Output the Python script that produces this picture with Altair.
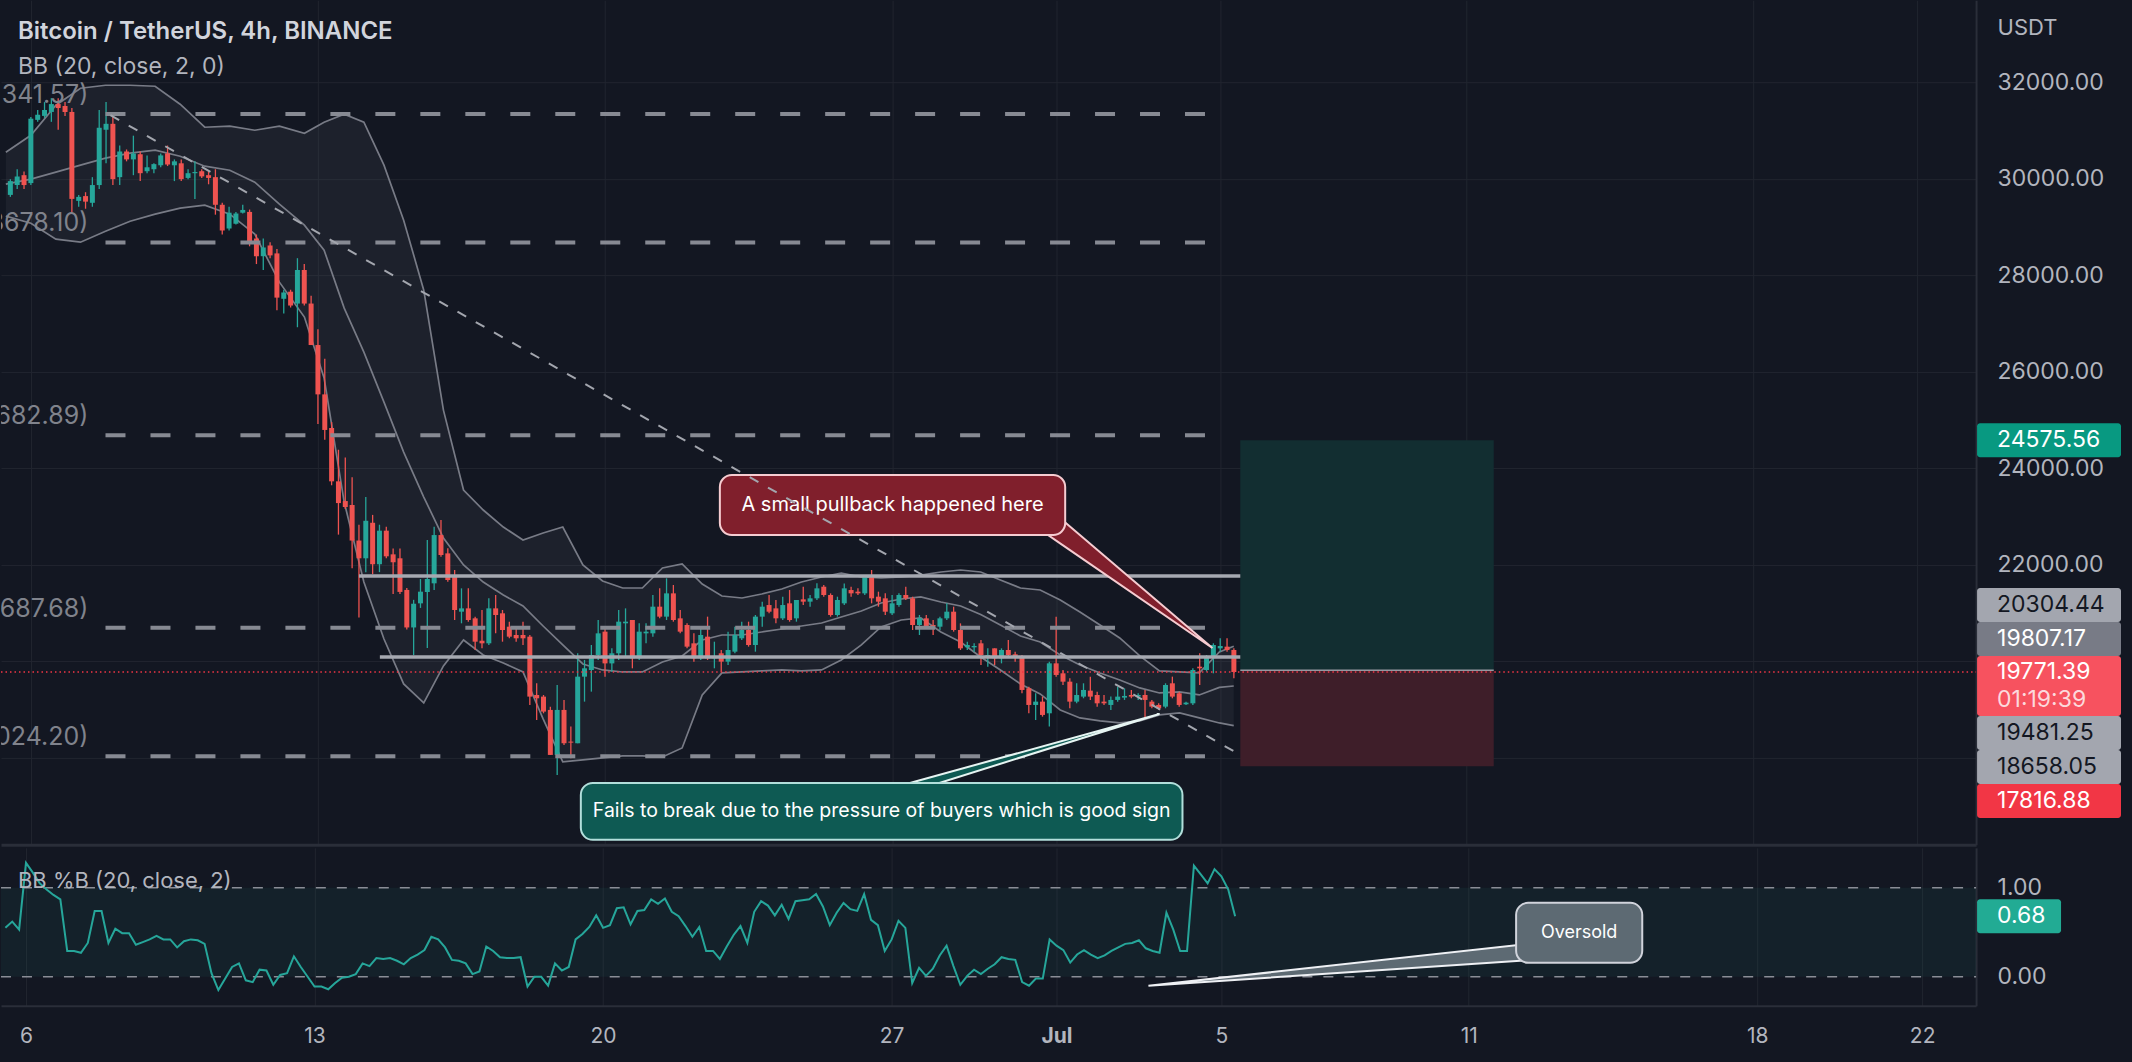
import altair as alt
import pandas as pd

# ------------------------------------------------------------------ data
opens = [
    29664, 29868, 30073, 29909, 31220, 31302, 31384, 31547, 31506, 31384,
    29540, 29639, 29500, 29868, 31015, 31138, 30032, 30564, 30400, 30507,
    30155, 30196, 30278, 30524, 30278, 30319, 30016, 30114, 30155, 30073,
    30032, 29459, 28967, 29066, 29295, 29311, 28762, 28393, 28615, 28451,
    27510, 27657, 27411, 28107, 27411, 26551, 25528, 24831, 23725, 23316,
    23234, 22497, 22129, 22866, 22006, 22702, 22211, 22129, 21473, 20695,
    21195, 21430, 21610, 22611, 22231, 21782, 21022, 21091, 20884, 20420,
    20366, 21091, 20988, 20711, 20539, 20539, 20504, 19295, 19261, 18985,
    18052, 18985, 18328, 18294, 19675, 19813, 20124, 20608, 19950, 20159,
    20781, 20850, 20055, 20573, 20573, 21126, 20919, 21402, 20884, 20746,
    20366, 20055, 20504, 20055, 20159, 19986, 20193, 20470, 20642, 20331,
    20919, 21160, 21091, 20884, 21195, 20884, 21278, 21230, 21299, 21540,
    21368, 20953, 21195, 21471, 21437, 21402, 21748, 21333, 21299, 20988,
    21160, 21368, 21299, 20746, 20884, 20746, 20711, 20884, 21022, 20642,
    20283, 20283, 20366, 20090, 20262, 20055, 20228, 20138, 20090, 19433,
    19088, 19157, 18915, 19951, 19744, 19571, 19157, 19261, 19385, 19295,
    19157, 19088, 19192, 19240, 19295, 19261, 19295, 19157, 19088, 19053,
    19537, 19330, 19102, 19122, 19882, 19813, 20090, 20262, 20297, 20228,
]
highs = [
    29990, 30196, 30150, 31277, 31424, 31588, 31670, 31670, 31588, 31465,
    29663, 29720, 30032, 31425, 31588, 31302, 30687, 30606, 30892, 30564,
    30482, 30319, 30524, 30687, 30400, 30400, 30196, 30360, 30196, 30155,
    30196, 29500, 29418, 29311, 29459, 29360, 28844, 28762, 28680, 28541,
    27698, 27698, 28352, 28230, 27575, 26879, 26265, 24954, 24380, 24217,
    23808, 22825, 23398, 23029, 22825, 22784, 22333, 22333, 21514, 21268,
    21700, 22510, 22784, 22922, 22335, 21886, 21506, 21506, 20919, 21057,
    21299, 21368, 21057, 20815, 20711, 20815, 20539, 19537, 19295, 19053,
    19502, 19192, 18639, 20159, 20021, 20331, 20850, 20711, 20262, 21057,
    21091, 20850, 20781, 20781, 21368, 21506, 21713, 21575, 21057, 20781,
    20573, 20677, 20919, 20400, 20228, 20608, 20711, 20815, 20815, 20953,
    21230, 21368, 21264, 21333, 21471, 21264, 21540, 21368, 21610, 21575,
    21402, 21333, 21609, 21540, 21506, 21782, 21886, 21437, 21402, 21368,
    21402, 21540, 21333, 20953, 20953, 20850, 20919, 21195, 21126, 20780,
    20400, 20366, 20435, 20262, 20262, 20262, 20435, 20193, 20124, 19468,
    19330, 19261, 19986, 20919, 19813, 19640, 19537, 19537, 19675, 19364,
    19295, 19261, 19468, 19433, 19399, 19330, 19399, 19192, 19122, 19537,
    19675, 19364, 19157, 19848, 20159, 20124, 20366, 20470, 20470, 20262,
]
lows = [
    29623, 29786, 29786, 29868, 31179, 31261, 31179, 31015, 31302, 29295,
    29418, 29377, 29418, 29786, 30319, 29868, 29868, 30360, 30073, 29950,
    30114, 30114, 30237, 30262, 29950, 29950, 29991, 29581, 30016, 29884,
    29254, 28844, 28926, 29049, 29278, 28598, 28230, 28107, 28352, 27272,
    27207, 27329, 26920, 27370, 26551, 24913, 24585, 23643, 22620, 23152,
    21924, 20900, 21842, 21801, 21842, 22129, 21391, 21391, 20654, 20122,
    21100, 20270, 21471, 22162, 21644, 20850, 20781, 20815, 20228, 20262,
    20331, 20573, 20400, 20470, 20400, 20331, 19088, 18777, 18915, 18052,
    17637, 18259, 17983, 18294, 19157, 19364, 20021, 19675, 19779, 20021,
    20090, 19848, 20021, 20366, 20504, 20884, 20850, 20815, 20573, 20262,
    19986, 20021, 20021, 19848, 19779, 19917, 20159, 20435, 20297, 20193,
    20711, 20988, 20781, 20850, 20815, 20815, 21160, 21126, 21264, 21333,
    20919, 20919, 21160, 21333, 21368, 21368, 21195, 21126, 20953, 20953,
    21126, 21264, 20642, 20539, 20677, 20539, 20642, 20850, 20608, 20228,
    20228, 20193, 19917, 19882, 19917, 19951, 20090, 19986, 19330, 18915,
    18777, 18846, 18639, 19675, 19502, 19019, 19122, 19226, 19192, 19053,
    19088, 18985, 19157, 19192, 19226, 19192, 18812, 19019, 18985, 19019,
    19226, 19053, 19088, 19088, 19502, 19779, 19744, 20193, 20193, 19640,
]
closes = [
    29950, 30048, 29868, 31244, 31326, 31424, 31547, 31465, 31384, 29581,
    29623, 29524, 29868, 31056, 31138, 29991, 30564, 30400, 30523, 30114,
    30237, 30302, 30483, 30294, 30360, 29991, 30114, 30138, 30048, 30016,
    29459, 28926, 29295, 29278, 29352, 28680, 28393, 28574, 28410, 27534,
    27641, 27370, 28107, 27411, 26551, 25528, 24790, 23725, 23274, 23193,
    22497, 22129, 22907, 22006, 22702, 22170, 22047, 21432, 20695, 21187,
    21437, 21700, 22611, 22197, 21679, 21057, 21091, 20850, 20400, 20366,
    21091, 20953, 20642, 20504, 20470, 20470, 19261, 19226, 18950, 18052,
    18985, 18294, 18307, 19675, 19848, 20124, 20573, 19950, 20159, 20815,
    20815, 20055, 20608, 20608, 21126, 20919, 21402, 20850, 20608, 20297,
    20055, 20539, 20055, 20104, 19986, 20228, 20539, 20642, 20331, 20919,
    21126, 21022, 20884, 21160, 20850, 21264, 21230, 21299, 21506, 21368,
    20953, 21264, 21506, 21402, 21402, 21748, 21299, 21230, 21022, 21195,
    21368, 21299, 20746, 20884, 20711, 20711, 20884, 21022, 20642, 20262,
    20331, 20311, 20124, 20124, 20055, 20228, 20124, 20090, 19399, 19088,
    19157, 18881, 19951, 19710, 19571, 19157, 19295, 19399, 19261, 19122,
    19122, 19192, 19261, 19275, 19261, 19295, 19192, 19053, 19019, 19502,
    19261, 19088, 19136, 19813, 19848, 20090, 20331, 20311, 20228, 19771.39,
]
pct_b = [
    0.55, 0.62, 0.53, 1.28, 1.17, 1.05, 0.98, 0.92, 0.87, 0.29,
    0.29, 0.27, 0.38, 0.74, 0.74, 0.38, 0.54, 0.49, 0.49, 0.36,
    0.39, 0.42, 0.46, 0.42, 0.42, 0.33, 0.40, 0.42, 0.41, 0.37,
    0.04, -0.15, -0.02, 0.11, 0.15, -0.04, -0.06, 0.08, 0.07, -0.09,
    0.02, 0.04, 0.23, 0.11, 0.00, -0.11, -0.11, -0.14, -0.07, -0.01,
    0.00, 0.03, 0.15, 0.12, 0.21, 0.20, 0.21, 0.18, 0.14, 0.21,
    0.25, 0.30, 0.45, 0.42, 0.33, 0.19, 0.18, 0.15, 0.03, 0.06,
    0.34, 0.29, 0.22, 0.21, 0.21, 0.22, -0.11, 0.00, 0.00, -0.10,
    0.15, 0.07, 0.11, 0.42, 0.48, 0.56, 0.69, 0.55, 0.58, 0.77,
    0.78, 0.59, 0.74, 0.75, 0.87, 0.82, 0.88, 0.73, 0.68, 0.57,
    0.45, 0.56, 0.29, 0.29, 0.20, 0.34, 0.47, 0.57, 0.38, 0.73,
    0.85, 0.80, 0.69, 0.81, 0.65, 0.85, 0.86, 0.87, 0.93, 0.79,
    0.58, 0.72, 0.83, 0.76, 0.74, 0.93, 0.64, 0.58, 0.29, 0.42,
    0.63, 0.55, -0.07, 0.10, 0.01, 0.09, 0.24, 0.35, 0.12, -0.09,
    0.01, 0.08, 0.03, 0.09, 0.14, 0.22, 0.20, 0.19, -0.06, -0.10,
    -0.02, -0.02, 0.42, 0.35, 0.30, 0.16, 0.25, 0.30, 0.25, 0.21,
    0.24, 0.29, 0.33, 0.37, 0.38, 0.41, 0.32, 0.29, 0.27, 0.72,
    0.53, 0.29, 0.29, 1.25, 1.15, 1.05, 1.21, 1.13, 0.98, 0.68,
]

# Bollinger bands (20, close, 2) sampled along the chart, day 0 = 6 Jun
bb_day = [-0.61, 0.00, 0.61, 1.21, 1.82, 2.42, 3.03, 3.64, 4.24, 4.85,
          5.46, 6.06, 6.67, 7.15, 7.64, 8.12, 8.61, 9.09, 9.58, 10.06,
          10.55, 11.03, 11.52, 12.00, 12.49, 12.97, 13.46, 13.94, 14.43, 14.91,
          15.40, 15.88, 16.37, 16.85, 17.34, 17.82, 18.31, 18.79, 19.28, 19.76,
          20.25, 20.73, 21.22, 21.70, 22.19, 22.67, 23.16, 23.64, 24.13, 24.61,
          25.10, 25.58, 26.07, 26.55, 27.04, 27.52, 28.01, 28.49, 28.98, 29.33]
bb_upper = [30549, 30901, 31523, 31876, 31938, 31938, 31917, 31544, 31067, 31088,
            31005, 31088, 30943, 31171, 31337, 31171, 30280, 29140, 27689, 25202,
            23544, 23130, 22777, 22508, 22653, 22777, 21990, 21658, 21513, 21513,
            21928, 22011, 21596, 21347, 21306, 21389, 21493, 21637, 21741, 21824,
            21741, 21720, 21741, 21782, 21845, 21886, 21845, 21679, 21513, 21472,
            21264, 21016, 20746, 20477, 20104, 19793, 19772, 19752, 20187, 20304.44]
bb_basis = [29886, 29990, 30135, 30280, 30425, 30529, 30591, 30466, 30259, 30176,
            29927, 29471, 29036, 28518, 27316, 26404, 25368, 24332, 23399, 22549,
            21990, 21637, 21368, 21140, 20725, 20332, 19938, 19814, 19772, 19772,
            19979, 20104, 20435, 20539, 20539, 20601, 20663, 20725, 20788, 20912,
            21037, 21202, 21285, 21327, 21223, 21140, 20964, 20746, 20518, 20394,
            20125, 19917, 19752, 19606, 19441, 19337, 19358, 19296, 19451, 19481.25]
bb_lower = [29223, 29078, 28746, 28684, 28912, 29119, 29264, 29389, 29451, 29264,
            28850, 27855, 27130, 25866, 23295, 21637, 20456, 19524, 19130, 19897,
            20435, 20125, 19959, 19772, 18798, 17907, 17948, 17990, 18031, 18031,
            18011, 18197, 19296, 19752, 19772, 19793, 19814, 19793, 19814, 20021,
            20332, 20705, 20850, 20892, 20601, 20394, 20083, 19814, 19524, 19317,
            18985, 18819, 18757, 18715, 18757, 18881, 18922, 18819, 18715, 18658.05]

level_prices = [31341.57, 28678.10, 24682.89, 20687.68, 18024.20]
level_days = [1.82, 29.03]
range_prices = [21762, 20083]
range_start_days = [8.00, 8.51]
range_end_day = 29.49
trend_days = [1.94, 29.49]
trend_prices = [31316, 18052]

position_days = [29.49, 35.67]
target_price, entry_price, stop_price = 24575.56, 19807.17, 17816.88
last_price = 19771.39
countdown = "01:19:39"
pctb_last = 0.68

date_tick_days = [0, 7, 14, 21, 25, 29, 35, 42, 46]
date_tick_labels = ["6", "13", "20", "27", "Jul", "5", "11", "18", "22"]
price_ticks = [18000, 20000, 22000, 24000, 26000, 28000, 30000, 32000]

pullback_text = "A small pullback happened here"
pullback_box_days, pullback_box_prices = [16.80, 25.22], [23855, 22612]
pullback_ptr = [(24.73, 22653), (25.15, 22923), (28.81, 20270)]
fails_text = "Fails to break due to the pressure of buyers which is good sign"
fails_box_days, fails_box_prices = [13.41, 28.08], [17472, 16291]
fails_ptr = [(20.83, 17327), (21.61, 17327), (27.52, 18902)]
oversold_text = "Oversold"
oversold_box_days, oversold_box_vals = [36.15, 39.21], [0.831, 0.157]
oversold_ptr = [(36.25, 0.36), (36.61, 0.191), (27.23, -0.101)]

# ------------------------------------------------------------------ style / layout
FONT = "Inter"
BG = "#131722"
GRID = "#21252f"
SEP = "#2a2e39"
TXT = "#b2b5be"
UP, DOWN = "#26a69a", "#ef5350"
BAND = "#787b86"
W, H_TOP, H_BOT, GAP, AX_W, AX_H = 1976, 845, 158, 3, 156, 56
X0, X1 = -25 / 41.24, (W - 25) / 41.24
P1 = 33700.0
P0 = P1 - H_TOP * 20.725
B0, B1 = -0.326, 1.449

XS = alt.Scale(domain=[X0, X1], nice=False, zero=False)
YS = alt.Scale(domain=[P0, P1], nice=False, zero=False)
BS = alt.Scale(domain=[B0, B1], nice=False, zero=False)

label_expr = "".join(f"datum.value == {d} ? '{l}' : " for d, l in zip(date_tick_days, date_tick_labels)) + "''"

XA_TOP = alt.Axis(values=date_tick_days, labels=False, ticks=False, domain=True, domainColor=SEP,
                  domainWidth=3, grid=True, gridColor=GRID, gridWidth=1, title=None,
                  minExtent=0, maxExtent=0)
YA_TOP = alt.Axis(orient="right", values=price_ticks,
                  labelExpr="datum.value < 21000 ? '' : format(datum.value, '.2f')",
                  labelFont=FONT, labelFontSize=23, labelColor=TXT, labelPadding=21, ticks=False,
                  domain=True, domainColor=SEP, domainWidth=2, grid=True, gridColor=GRID, gridWidth=1,
                  title="USDT", titleAngle=0, titleX=21, titleY=27, titleAlign="left",
                  titleBaseline="middle", titleFont=FONT, titleFontSize=22, titleFontWeight="normal",
                  titleColor=TXT, minExtent=AX_W, maxExtent=AX_W)
XA_BOT = alt.Axis(values=date_tick_days, labelExpr=label_expr, labelFont=FONT, labelFontSize=21,
                  labelColor=TXT, labelPadding=20, ticks=False, domain=True, domainColor=SEP,
                  domainWidth=2, grid=True, gridColor=GRID, gridWidth=1, title=None,
                  labelFlush=False, labelOverlap=False,
                  labelFontWeight={"condition": {"test": "datum.value == 25", "value": "bold"}, "value": "normal"},
                  minExtent=AX_H, maxExtent=AX_H)
YA_BOT = alt.Axis(orient="right", values=[0, 1], format=".2f", labelFont=FONT, labelFontSize=23,
                  labelColor=TXT, labelPadding=21, ticks=False, domain=True, domainColor=SEP,
                  domainWidth=2, grid=False, title=None, minExtent=AX_W, maxExtent=AX_W)


def X(f):
    return alt.X(f, type="quantitative", scale=XS, axis=XA_TOP)


def Y(f):
    return alt.Y(f, type="quantitative", scale=YS, axis=YA_TOP)


def XB(f):
    return alt.X(f, type="quantitative", scale=XS, axis=XA_BOT)


def YB(f):
    return alt.Y(f, type="quantitative", scale=BS, axis=YA_BOT)


def py(p):
    return (P1 - p) / (P1 - P0) * H_TOP


def pp(y):
    return P1 - y / H_TOP * (P1 - P0)


def tri(pts):
    (x0, y0), (x1, y1), (x2, y2) = sorted(pts)
    ym = y0 + (y2 - y0) * (x1 - x0) / (x2 - x0)
    return pd.DataFrame({"x": [x0, x1, x2], "y": [y0, y1, y2], "y2": [y0, ym, y2]})


def text_at(txt, x, y, size, color, weight="normal", align="left"):
    return alt.Chart(pd.DataFrame({"t": [txt]})).mark_text(
        font=FONT, fontSize=size, color=color, fontWeight=weight, align=align, baseline="middle"
    ).encode(text="t:N", x=alt.value(x), y=alt.value(y))


# ------------------------------------------------------------------ tables
n = len(closes)
assert all(len(a) == n for a in (opens, highs, lows, pct_b))
candle_days = [(k - 3) / 6 for k in range(n)]
candles = pd.DataFrame({"day": candle_days, "open": opens, "high": highs, "low": lows, "close": closes})
candles["dir"] = ["up" if c >= o else "down" for o, c in zip(opens, closes)]
bb = pd.DataFrame({"day": bb_day, "upper": bb_upper, "basis": bb_basis, "lower": bb_lower})
levels = pd.DataFrame({"price": level_prices, "d0": level_days[0], "d1": level_days[1],
                       "label": [f"({p:.2f})" for p in level_prices], "lx": 1.40})
ranges = pd.DataFrame({"price": range_prices, "d0": range_start_days, "d1": range_end_day})
trend = pd.DataFrame({"d0": [trend_days[0]], "d1": [trend_days[1]],
                      "p0": [trend_prices[0]], "p1": [trend_prices[1]]})
pos = pd.DataFrame({"d0": position_days[0], "d1": position_days[1],
                    "p0": [entry_price, stop_price], "p1": [target_price, entry_price],
                    "fill": ["#122e31", "#3e1e29"]})

# price tags on the right scale (current price anchored, others pushed away)
tag_list = [(target_price, "#089981", "#ffffff"), (bb_upper[-1], "#a3a6af", "#131722"),
            (entry_price, "#787b86", "#ffffff"), (bb_basis[-1], "#a3a6af", "#131722"),
            (bb_lower[-1], "#a3a6af", "#131722"), (stop_price, "#f23645", "#ffffff")]
TAG_H = 34
cy = py(last_price)
cur_top, cur_bot = cy - 16, cy + 44
rows = [dict(top=pp(cur_top), bot=pp(cur_bot), fill="#f7525f")]
texts = [dict(price=pp(cy), label=f"{last_price:.2f}", color="#ffffff"),
         dict(price=pp(cy + 28), label=countdown, color="#fcd9dc")]
limit = cur_top
for p, f, c in sorted([t for t in tag_list if t[0] > last_price]):
    centre = min(py(p), limit - TAG_H / 2)
    limit = centre - TAG_H / 2
    rows.append(dict(top=pp(centre - TAG_H / 2), bot=pp(centre + TAG_H / 2), fill=f))
    texts.append(dict(price=pp(centre), label=f"{p:.2f}", color=c))
limit = cur_bot
for p, f, c in sorted([t for t in tag_list if t[0] < last_price], reverse=True):
    centre = max(py(p), limit + TAG_H / 2)
    limit = centre + TAG_H / 2
    rows.append(dict(top=pp(centre - TAG_H / 2), bot=pp(centre + TAG_H / 2), fill=f))
    texts.append(dict(price=pp(centre), label=f"{p:.2f}", color=c))
tags = pd.DataFrame(rows)
tag_texts = pd.DataFrame(texts)

# ------------------------------------------------------------------ price pane
bb_fill = alt.Chart(bb).mark_area(color=BAND, opacity=0.1).encode(x=X("day"), y=Y("upper"), y2="lower")
bb_lines = alt.Chart(bb).transform_fold(["upper", "basis", "lower"], as_=["band", "val"]).mark_line(
    color=BAND, strokeWidth=1.7).encode(x=X("day"), y=Y("val:Q"), detail="band:N")
col = alt.Color("dir:N", scale=alt.Scale(domain=["up", "down"], range=[UP, DOWN]), legend=None)
wicks = alt.Chart(candles).mark_rule(strokeWidth=1.3).encode(x=X("day"), y=Y("low"), y2="high", color=col)
bodies = alt.Chart(candles).mark_bar(size=5).encode(x=X("day"), y=Y("open"), y2="close", color=col)
pos_boxes = alt.Chart(pos).mark_rect().encode(x=X("d0"), x2="d1", y=Y("p0"), y2="p1",
                                              color=alt.Color("fill:N", scale=None))
entry_line = alt.Chart(pd.DataFrame({"p": [entry_price], "d0": [position_days[0]], "d1": [position_days[1]]})
                       ).mark_rule(color="#9598a1", strokeWidth=1.5).encode(x=X("d0"), x2="d1", y=Y("p"))
level_rules = alt.Chart(levels).mark_rule(color="#878a93", strokeWidth=4, strokeDash=[20, 25]).encode(
    x=X("d0"), x2="d1", y=Y("price"))
level_labels = alt.Chart(levels).mark_text(font=FONT, fontSize=25, color="#80838c", align="right",
                                           baseline="middle", dy=-19, clip=True).encode(
    x=X("lx"), y=Y("price"), text="label:N")
range_rules = alt.Chart(ranges).mark_rule(color="#a6a9b1", strokeWidth=3.5).encode(
    x=X("d0"), x2="d1", y=Y("price"))
trend_rule = alt.Chart(trend).mark_rule(color="#a3a6ae", strokeWidth=2, strokeDash=[10, 11]).encode(
    x=X("d0"), x2="d1", y=Y("p0"), y2="p1")
price_line = alt.Chart(pd.DataFrame({"p": [last_price]})).mark_rule(
    color="#f23645", strokeWidth=1.3, strokeDash=[1.5, 3]).encode(x=alt.value(0), x2=alt.value(W), y=Y("p"))

pb_ptr = alt.Chart(tri(pullback_ptr)).mark_area(color="#801f2c", stroke="#f6ccd1", strokeWidth=2).encode(
    x=X("x"), y=Y("y"), y2="y2")
pb_box = alt.Chart(pd.DataFrame({"d0": [pullback_box_days[0]], "d1": [pullback_box_days[1]],
                                 "p0": [pullback_box_prices[0]], "p1": [pullback_box_prices[1]]})
                   ).mark_rect(color="#801f2c", stroke="#f6ccd1", strokeWidth=2, cornerRadius=12).encode(
    x=X("d0"), x2="d1", y=Y("p0"), y2="p1")
pb_txt = alt.Chart(pd.DataFrame({"d": [sum(pullback_box_days) / 2], "p": [sum(pullback_box_prices) / 2],
                                 "t": [pullback_text]})).mark_text(
    font=FONT, fontSize=20, color="#ffffff").encode(x=X("d"), y=Y("p"), text="t:N")
fb_ptr = alt.Chart(tri(fails_ptr)).mark_area(color="#0e5a53", stroke="#e6f4f2", strokeWidth=2).encode(
    x=X("x"), y=Y("y"), y2="y2")
fb_box = alt.Chart(pd.DataFrame({"d0": [fails_box_days[0]], "d1": [fails_box_days[1]],
                                 "p0": [fails_box_prices[0]], "p1": [fails_box_prices[1]]})
                   ).mark_rect(color="#0e5a53", stroke="#b2dfdb", strokeWidth=2, cornerRadius=12).encode(
    x=X("d0"), x2="d1", y=Y("p0"), y2="p1")
fb_txt = alt.Chart(pd.DataFrame({"d": [sum(fails_box_days) / 2], "p": [sum(fails_box_prices) / 2],
                                 "t": [fails_text]})).mark_text(
    font=FONT, fontSize=19.5, color="#ffffff").encode(x=X("d"), y=Y("p"), text="t:N")

tag_rects = alt.Chart(tags).mark_rect(cornerRadius=3).encode(
    x=alt.value(1977), x2=alt.value(2121), y=Y("top"), y2="bot", color=alt.Color("fill:N", scale=None))
tag_labels = alt.Chart(tag_texts).mark_text(font=FONT, fontSize=23, align="left", baseline="middle").encode(
    x=alt.value(1997), y=Y("price"), text="label:N", color=alt.Color("color:N", scale=None))

top = alt.layer(
    bb_fill, bb_lines, wicks, bodies, pos_boxes, entry_line, level_rules, level_labels, range_rules,
    fb_ptr, fb_box, fb_txt, pb_ptr, pb_box, pb_txt, trend_rule, price_line, tag_rects, tag_labels,
    text_at("Bitcoin / TetherUS, 4h, BINANCE", 17, 32, 24, "#d1d4dc", weight=600),
    text_at("BB (20, close, 2, 0)", 17, 67, 23, TXT),
).properties(width=W, height=H_TOP)

# ------------------------------------------------------------------ %B pane
pb_df = pd.DataFrame({"day": candle_days, "b": pct_b})
zone = alt.Chart(pd.DataFrame({"a": [0.0], "b": [1.0]})).mark_rect(color="#26a69a", opacity=0.07).encode(
    x=alt.value(0), x2=alt.value(W), y=YB("a"), y2="b")
zone_lines = alt.Chart(pd.DataFrame({"v": [0.0, 1.0]})).mark_rule(
    color="#8a8d96", strokeWidth=1.6, strokeDash=[10, 11]).encode(x=alt.value(0), x2=alt.value(W), y=YB("v"))
b_line = alt.Chart(pb_df).mark_line(color="#26a69a", strokeWidth=2).encode(x=XB("day"), y=YB("b"))
os_ptr = alt.Chart(tri(oversold_ptr)).mark_area(color="#5d6a73", stroke="#eef0f4", strokeWidth=2).encode(
    x=XB("x"), y=YB("y"), y2="y2")
os_box = alt.Chart(pd.DataFrame({"d0": [oversold_box_days[0]], "d1": [oversold_box_days[1]],
                                 "v0": [oversold_box_vals[0]], "v1": [oversold_box_vals[1]]})
                   ).mark_rect(color="#5d6a73", stroke="#d1d4dc", strokeWidth=2, cornerRadius=12).encode(
    x=XB("d0"), x2="d1", y=YB("v0"), y2="v1")
os_txt = alt.Chart(pd.DataFrame({"d": [sum(oversold_box_days) / 2], "v": [sum(oversold_box_vals) / 2],
                                 "t": [oversold_text]})).mark_text(
    font=FONT, fontSize=18, color="#ffffff").encode(x=XB("d"), y=YB("v"), text="t:N")
b_tag = alt.Chart(pd.DataFrame({"v0": [pctb_last - 17 / 89], "v1": [pctb_last + 17 / 89],
                                "v": [pctb_last], "t": [f"{pctb_last:.2f}"]}))
b_tag_rect = b_tag.mark_rect(color="#22ab94", cornerRadius=3).encode(
    x=alt.value(1977), x2=alt.value(2061), y=YB("v0"), y2="v1")
b_tag_txt = b_tag.mark_text(font=FONT, fontSize=23, color="#ffffff", align="left", baseline="middle").encode(
    x=alt.value(1997), y=YB("v"), text="t:N")

bottom = alt.layer(
    zone, zone_lines, b_line, os_ptr, os_box, os_txt, b_tag_rect, b_tag_txt,
    text_at("BB %B (20, close, 2)", 17, 33, 22, TXT),
).properties(width=W, height=H_BOT)

chart = alt.vconcat(top, bottom, spacing=GAP).properties(
    padding=0, background=BG
).configure_view(stroke=None)

chart.save("out.html", embed_options={"renderer": "svg", "actions": False})
